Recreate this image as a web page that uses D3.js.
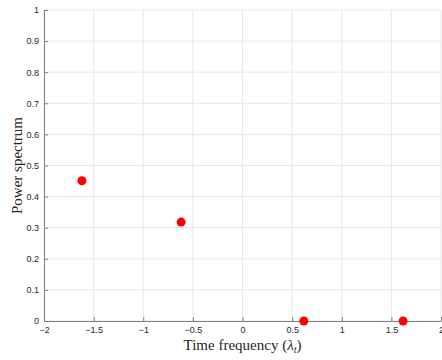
<!DOCTYPE html>
<html>
<head>
<meta charset="utf-8">
<script src="https://cdn.jsdelivr.net/npm/d3@7"></script>
<style>
  body { margin: 0; background: #fff; }
  .tick text { font-family: "Liberation Sans", Arial, sans-serif; font-size: 9px; fill: #262626; }
  .lab { font-family: "Liberation Serif", "Times New Roman", serif; font-size: 15px; fill: #262626; }
</style>
</head>
<body>
<div id="plot"></div>
<script>
// frequencies and power values
const freqs = [-1.618, -0.618, 0.618, 1.618],
      power = [0.451, 0.318, 0, 0]
const xTicks = [-2, -1.5, -1, -0.5, 0, 0.5, 1, 1.5, 2],
      yTicks = [0, 0.1, 0.2, 0.3, 0.4, 0.5, 0.6, 0.7, 0.8, 0.9, 1]

const w = 442, h = 360,
      margin = {top: 10, right: 1, bottom: 39, left: 44}

const svg = d3.select("#plot").append("svg")
  .attr("width", w)
  .attr("height", h)

const xScale = d3.scaleLinear().domain([-2, 2]).range([margin.left, w - margin.right]),
      yScale = d3.scaleLinear().domain([0, 1]).range([h - margin.bottom, margin.top])

// grid
svg.append("g").selectAll("line").data(xTicks).join("line")
  .attr("x1", d => xScale(d)).attr("x2", d => xScale(d))
  .attr("y1", yScale(0)).attr("y2", yScale(1))
  .attr("stroke", "#e8e8e8").attr("stroke-width", 1)
svg.append("g").selectAll("line").data(yTicks).join("line")
  .attr("x1", xScale(-2)).attr("x2", xScale(2))
  .attr("y1", d => yScale(d)).attr("y2", d => yScale(d))
  .attr("stroke", "#e8e8e8").attr("stroke-width", 1)

// axes (ticks pointing inwards)
const xAxis = svg.append("g")
  .attr("transform", `translate(0, ${yScale(0)})`)
  .call(d3.axisBottom(xScale).tickValues(xTicks).tickSize(-4).tickPadding(6)
    .tickFormat(d3.format("")))
xAxis.select(".domain").attr("stroke", "#808080")
xAxis.selectAll(".tick line").attr("stroke", "#808080")

const yAxis = svg.append("g")
  .attr("transform", `translate(${xScale(-2)}, 0)`)
  .call(d3.axisLeft(yScale).tickValues(yTicks).tickSize(-4).tickPadding(5)
    .tickFormat(d3.format("")))
yAxis.select(".domain").attr("stroke", "#808080")
yAxis.selectAll(".tick line").attr("stroke", "#808080")

// points
svg.append("g").selectAll("circle").data(freqs).join("circle")
  .attr("cx", d => xScale(d))
  .attr("cy", (d, i) => yScale(power[i]))
  .attr("r", 4.5)
  .attr("fill", "#ff0000")

// labels
const xl = svg.append("text")
  .attr("class", "lab")
  .attr("x", xScale(0))
  .attr("y", 350)
  .attr("text-anchor", "middle")
xl.append("tspan").text("Time frequency (")
xl.append("tspan").style("font-style", "italic").text("λ")
xl.append("tspan").style("font-style", "italic").style("font-size", "10px").attr("dy", 3).text("t")
xl.append("tspan").attr("dy", -3).text(")")

svg.append("text")
  .attr("class", "lab")
  .attr("transform", `translate(22, ${yScale(0.5)}) rotate(-90)`)
  .attr("text-anchor", "middle")
  .text("Power spectrum")
</script>
</body>
</html>
